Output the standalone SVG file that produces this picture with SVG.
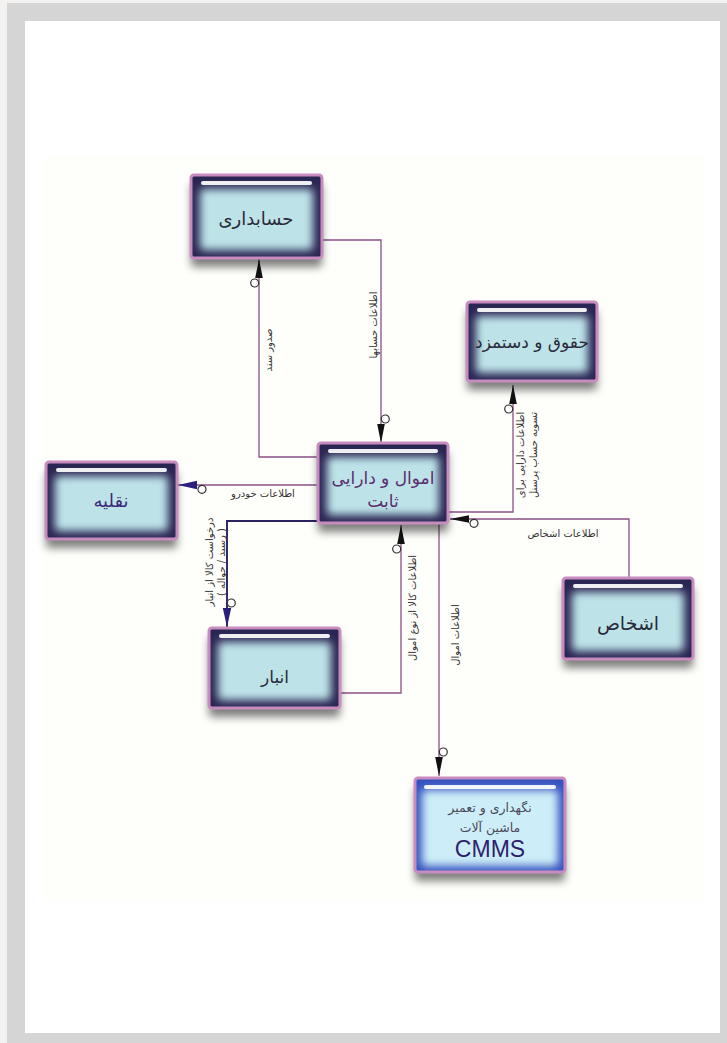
<svg xmlns="http://www.w3.org/2000/svg" width="727" height="1043" viewBox="0 0 727 1043">
<style>
.base{fill:#2c2853;filter:url(#sh)}
.glow{fill:#bde3e8;filter:url(#gl)}
.hl{fill:#ffffff;opacity:0.92}
.frame{fill:none;stroke:#c98cbf;stroke-width:3}
.nt{font-family:"DejaVu Sans","Noto Sans",sans-serif;text-anchor:middle;dominant-baseline:central;fill:#2a2a3a}
.lb{font-family:"DejaVu Sans","Noto Sans",sans-serif;font-size:10px;text-anchor:middle;dominant-baseline:central;fill:#333}
.ln{fill:none;stroke:#8a4f86;stroke-width:1.3}
.lnd{fill:none;stroke:#2c2260;stroke-width:1.9}
</style>
<defs>
<filter id="sh" x="-20%" y="-20%" width="140%" height="170%">
<feGaussianBlur in="SourceAlpha" stdDeviation="4"/>
<feOffset dy="9"/>
<feComponentTransfer><feFuncA type="linear" slope="0.5"/></feComponentTransfer>
<feMerge><feMergeNode/><feMergeNode in="SourceGraphic"/></feMerge>
</filter>
<filter id="gl" x="-40%" y="-40%" width="180%" height="180%">
<feGaussianBlur stdDeviation="4"/>
</filter>
<marker id="ab" viewBox="-30 -10 32 20" markerWidth="32" markerHeight="20" refX="0" refY="0" markerUnits="userSpaceOnUse" orient="auto">
<circle cx="-24" cy="-4.3" r="4" fill="#fff" stroke="#333" stroke-width="1.2"/>
<path d="M0,0 L-19,-3.8 L-19,3.8 Z" fill="#111"/>
</marker>
<marker id="an" viewBox="-30 -10 32 20" markerWidth="32" markerHeight="20" refX="0" refY="0" markerUnits="userSpaceOnUse" orient="auto">
<circle cx="-24" cy="-4.3" r="4" fill="#fff" stroke="#333" stroke-width="1.2"/>
<path d="M0,0 L-19,-4.2 L-19,4.2 Z" fill="#2a1f7a"/>
</marker>
</defs>
<rect x="0" y="0" width="727" height="1043" fill="#f3f2f0"/>
<rect x="7" y="3" width="720" height="1040" fill="#d6d5d6"/>
<rect x="25" y="21" width="695" height="1012" fill="#ffffff"/>
<rect x="43" y="155" width="663" height="747" fill="#fefefa"/>

<g id="connectors">
<path class="ln" d="M322,240 H381 V443" marker-end="url(#ab)"/>
<path class="ln" d="M318,457 H259 V259" marker-end="url(#ab)"/>
<path class="ln" d="M318,485 H178" marker-end="url(#an)"/>
<path class="lnd" d="M318,521 H227 V627" marker-end="url(#an)"/>
<path class="ln" d="M340,693 H401 V525" marker-end="url(#ab)"/>
<path class="ln" d="M439,523 V776" marker-end="url(#ab)"/>
<path class="ln" d="M448,512 H513 V385" marker-end="url(#ab)"/>
<path class="ln" d="M629,578 V519 H450" marker-end="url(#ab)"/>
<text class="lb" transform="translate(373,325) rotate(-90)">اطلاعات حسابها</text>
<text class="lb" transform="translate(268,350) rotate(-90)">صدور سند</text>
<text class="lb" x="263" y="493">اطلاعات خودرو</text>
<text class="lb" transform="translate(209,562) rotate(-90)">درخواست کالا از انبار</text>
<text class="lb" transform="translate(221,562) rotate(-90)">( رسید / حواله )</text>
<text class="lb" transform="translate(412,608) rotate(-90)">اطلاعات کالا از نوع اموال</text>
<text class="lb" transform="translate(455,635) rotate(-90)">اطلاعات  اموال</text>
<text class="lb" transform="translate(520,455) rotate(-90)">اطلاعات دارایی برای</text>
<text class="lb" transform="translate(533,455) rotate(-90)">تسویه حساب پرسنل</text>
<text class="lb" x="563" y="533">اطلاعات اشخاص</text>
</g>

<g id="n-accounting">
<rect class="base" x="191" y="175" width="131" height="83" rx="3"/>
<rect class="glow" x="200" y="189" width="113" height="61" rx="4"/>
<rect class="hl" x="201" y="181" width="111" height="4" rx="2"/>
<rect class="frame" x="191" y="175" width="131" height="83" rx="3"/>
<text class="nt" x="256" y="218" font-size="18">حسابداری</text>
</g>

<g id="n-salary">
<rect class="base" x="467" y="302" width="130" height="79" rx="3"/>
<rect class="glow" x="476" y="316" width="112" height="57" rx="4"/>
<rect class="hl" x="477" y="308" width="110" height="4" rx="2"/>
<rect class="frame" x="467" y="302" width="130" height="79" rx="3"/>
<text class="nt" x="532" y="342" font-size="17">حقوق و دستمزد</text>
</g>

<g id="n-center">
<rect class="base" x="318" y="443" width="130" height="80" rx="3"/>
<rect class="glow" x="327" y="457" width="112" height="58" rx="4"/>
<rect class="hl" x="328" y="449" width="110" height="4" rx="2"/>
<rect class="frame" x="318" y="443" width="130" height="80" rx="3"/>
<text class="nt" x="383" y="478" font-size="17" style="fill:#5b2c6f">اموال و دارایی</text>
<text class="nt" x="383" y="501" font-size="17" style="fill:#5b2c6f">ثابت</text>
</g>

<g id="n-transport">
<rect class="base" x="46" y="462" width="131" height="77" rx="3"/>
<rect class="glow" x="55" y="476" width="113" height="55" rx="4"/>
<rect class="hl" x="56" y="468" width="111" height="4" rx="2"/>
<rect class="frame" x="46" y="462" width="131" height="77" rx="3"/>
<text class="nt" x="111" y="500" font-size="18" style="fill:#3b2a7a">نقلیه</text>
</g>

<g id="n-warehouse">
<rect class="base" x="209" y="628" width="131" height="80" rx="3"/>
<rect class="glow" x="218" y="642" width="113" height="58" rx="4"/>
<rect class="hl" x="219" y="634" width="111" height="4" rx="2"/>
<rect class="frame" x="209" y="628" width="131" height="80" rx="3"/>
<text class="nt" x="275" y="677" font-size="17">انبار</text>
</g>

<g id="n-persons">
<rect class="base" x="563" y="578" width="130" height="81" rx="3"/>
<rect class="glow" x="572" y="592" width="112" height="59" rx="4"/>
<rect class="hl" x="573" y="584" width="110" height="4" rx="2"/>
<rect class="frame" x="563" y="578" width="130" height="81" rx="3"/>
<text class="nt" x="628" y="623" font-size="19">اشخاص</text>
</g>

<g id="n-cmms">
<rect class="base" x="415" y="778" width="150" height="94" rx="3" style="fill:#3552c0"/>
<rect class="glow" x="422" y="790" width="136" height="76" rx="4" style="fill:#cdeef8"/>
<rect class="hl" x="424" y="785" width="132" height="4" rx="2"/>
<rect class="frame" x="415" y="778" width="150" height="94" rx="3"/>
<text class="nt" x="490" y="807" font-size="12.5" style="fill:#4a4a5a">نگهداری و تعمیر</text>
<text class="nt" x="490" y="827" font-size="12.5" style="fill:#4a4a5a">ماشین  آلات</text>
<text class="nt" x="490" y="849" font-size="23" style="fill:#2e1f6e;font-family:'Liberation Sans',sans-serif">CMMS</text>
</g>
</svg>
